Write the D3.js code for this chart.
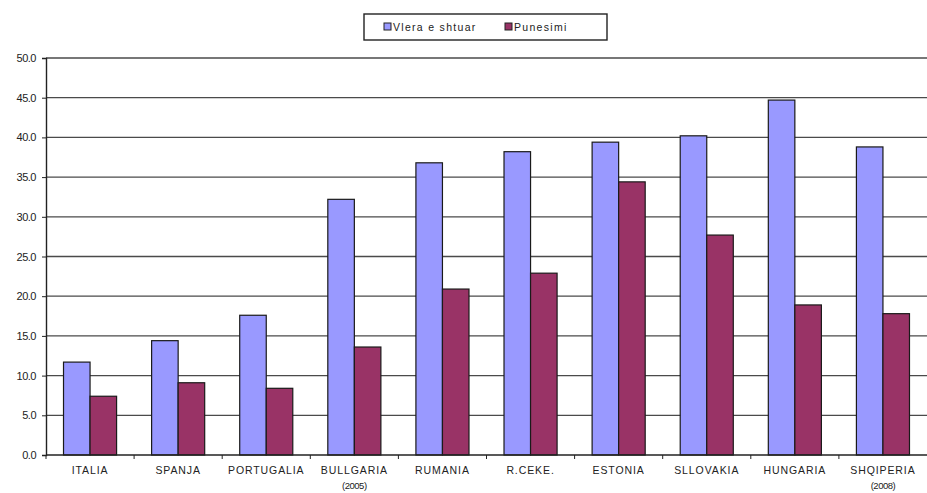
<!DOCTYPE html>
<html>
<head>
<meta charset="utf-8">
<script src="https://cdn.jsdelivr.net/npm/d3@7/dist/d3.min.js"></script>
<style>
  body { margin: 0; background: #fff; }
  svg text { font-family: "Liberation Sans", Arial, sans-serif; }
</style>
</head>
<body>
<svg id="chart" width="927" height="493"></svg>
<script>
// Country labels (second line holds the reference year where given)
const categories = ["ITALIA", "SPANJA", "PORTUGALIA", "BULLGARIA", "RUMANIA", "R.CEKE.", "ESTONIA", "SLLOVAKIA", "HUNGARIA", "SHQIPERIA"];
const subLabels = ["", "", "", "(2005)", "", "", "", "", "", "(2008)"];
const seriesNames = ["Vlera e shtuar", "Punesimi"];
const valueAdded = [11.7, 14.4, 17.6, 32.2, 36.8, 38.2, 39.4, 40.2, 44.7, 38.8];
const employment = [7.4, 9.1, 8.4, 13.6, 20.9, 22.9, 34.4, 27.7, 18.9, 17.8];
const yTicks = [0, 5, 10, 15, 20, 25, 30, 35, 40, 45, 50];
const colors = ["#9999ff", "#993366"];

const svg = d3.select("#chart");
const margin = { left: 46, right: 0, top: 58, bottom: 38 };
const W = 927, H = 493;

const x = d3.scaleBand().domain(categories).range([margin.left, W - margin.right]).paddingInner(0).paddingOuter(0);
const xs = d3.scaleBand().domain([0, 1]).range([0, x.bandwidth()]).paddingInner(0).paddingOuter(0.66);
const y = d3.scaleLinear().domain([0, 50]).range([H - margin.bottom, margin.top]);

// Horizontal gridlines
svg.append("g").selectAll("line").data(yTicks.slice(1)).join("line")
  .attr("x1", margin.left).attr("x2", W - margin.right)
  .attr("y1", d => y(d)).attr("y2", d => y(d))
  .attr("stroke", "#4a4a4a").attr("stroke-width", 1.3);

// Bars
const groups = svg.append("g").selectAll("g").data(categories).join("g")
  .attr("transform", d => `translate(${x(d)},0)`);
const seriesValues = [valueAdded, employment];
groups.selectAll("rect").data((d, i) => [0, 1].map(s => ({ s, v: seriesValues[s][i] }))).join("rect")
  .attr("x", d => xs(d.s))
  .attr("width", xs.bandwidth())
  .attr("y", d => y(d.v))
  .attr("height", d => y(0) - y(d.v))
  .attr("fill", d => colors[d.s])
  .attr("stroke", "#1a1a1a").attr("stroke-width", 1.2);

// Y axis
const yAxis = d3.axisLeft(y).tickValues(yTicks).tickFormat(d3.format(".1f")).tickSize(4).tickPadding(6);
const gy = svg.append("g").attr("transform", `translate(${margin.left},0)`).call(yAxis);
gy.select(".domain").attr("stroke", "#222").attr("stroke-width", 1.4);
gy.selectAll(".tick line").attr("stroke", "#222");
gy.selectAll(".tick text").attr("font-size", 11).attr("fill", "#222").attr("letter-spacing", "-0.5");

// X axis baseline with ticks between categories
const gx = svg.append("g").attr("transform", `translate(0,${y(0)})`);
gx.append("line").attr("x1", margin.left).attr("x2", W - margin.right)
  .attr("y1", 0).attr("y2", 0).attr("stroke", "#222").attr("stroke-width", 1.4);
gx.selectAll("line.tk").data(categories).join("line").attr("class", "tk")
  .attr("x1", d => x(d)).attr("x2", d => x(d)).attr("y1", 0).attr("y2", 4)
  .attr("stroke", "#222");

// Category labels
svg.append("g").selectAll("text").data(categories).join("text")
  .attr("x", d => x(d) + x.bandwidth() / 2)
  .attr("y", y(0) + 19)
  .attr("text-anchor", "middle")
  .attr("font-size", 10.5).attr("fill", "#222").attr("letter-spacing", "0.9")
  .text(d => d);
svg.append("g").selectAll("text").data(categories.filter((d, i) => subLabels[i])).join("text")
  .attr("x", d => x(d) + x.bandwidth() / 2)
  .attr("y", y(0) + 34)
  .attr("text-anchor", "middle")
  .attr("font-size", 9.5).attr("fill", "#222").attr("letter-spacing", "-0.5")
  .text(d => subLabels[categories.indexOf(d)]);

// Legend
const lg = svg.append("g").attr("transform", "translate(364,14)");
lg.append("rect").attr("width", 243).attr("height", 26).attr("fill", "#fff")
  .attr("stroke", "#222").attr("stroke-width", 1.4);
const legendX = [20, 141];
seriesNames.forEach((name, i) => {
  lg.append("rect").attr("x", legendX[i]).attr("y", 9).attr("width", 7).attr("height", 7)
    .attr("fill", colors[i]).attr("stroke", "#222").attr("stroke-width", 1);
  lg.append("text").attr("x", legendX[i] + 9).attr("y", 17)
    .attr("font-size", 10.5).attr("fill", "#222").attr("letter-spacing", "1.3")
    .text(name);
});
</script>
</body>
</html>
